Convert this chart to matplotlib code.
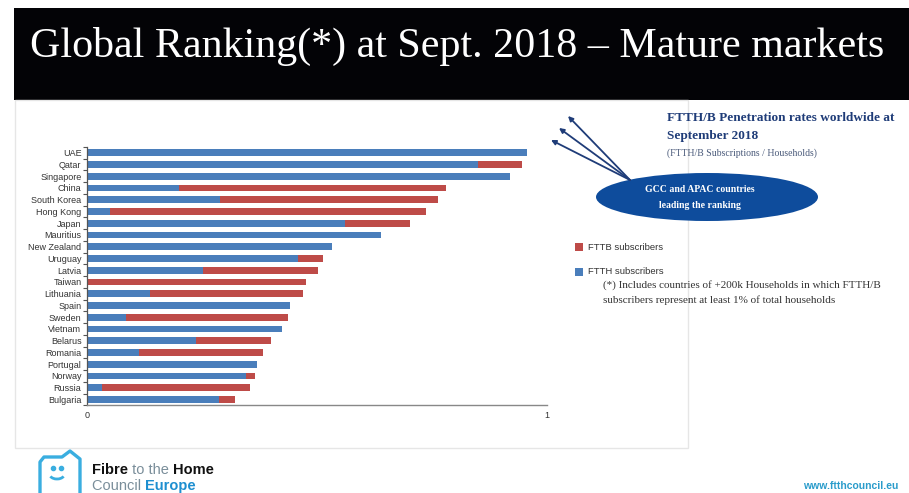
import matplotlib
matplotlib.use("Agg")
import matplotlib.pyplot as plt
from matplotlib.patches import Rectangle, Ellipse, Polygon, Arc
import numpy as np

countries = ["UAE", "Qatar", "Singapore", "China", "South Korea", "Hong Kong",
             "Japan", "Mauritius", "New Zealand", "Uruguay", "Latvia", "Taiwan",
             "Lithuania", "Spain", "Sweden", "Vietnam", "Belarus", "Romania",
             "Portugal", "Norway", "Russia", "Bulgaria"]
ftth = [0.957, 0.849, 0.920, 0.200, 0.289, 0.050, 0.561, 0.639, 0.533, 0.459,
        0.252, 0.000, 0.138, 0.441, 0.085, 0.423, 0.238, 0.114, 0.370, 0.345,
        0.033, 0.287]
fttb = [0.000, 0.097, 0.000, 0.580, 0.473, 0.688, 0.142, 0.000, 0.000, 0.053,
        0.251, 0.475, 0.332, 0.000, 0.351, 0.000, 0.161, 0.268, 0.000, 0.021,
        0.321, 0.035]
x_ticks = [0, 1]
x_ticklabels = ["0", "1"]

title = "Global Ranking(*) at Sept. 2018 \u2013 Mature markets"
BLUE = "#4A7EBB"
RED = "#BE4B48"
NAVY = "#1F3C78"

W, H = 909, 493
fig = plt.figure(figsize=(W / 100, H / 100), dpi=100)
fig.patch.set_facecolor("white")

# overlay axes in pixel coordinates
ov = fig.add_axes([0, 0, 1, 1])
ov.set_xlim(0, W)
ov.set_ylim(H, 0)
ov.axis("off")

# black title band
ov.add_patch(Rectangle((14, 8), W - 14, 92, facecolor="#030306", edgecolor="none"))
# chart frame
ov.add_patch(Rectangle((15, 100), 673, 348, facecolor="white", edgecolor="#e6e6e6", lw=1.0))

renderer = fig.canvas.get_renderer()
# title, sized to span the band
t = ov.text(30, 46, title, color="white", fontsize=30, family="Liberation Serif",
            ha="left", va="center")
wpx = t.get_window_extent(renderer).width
t.set_fontsize(30 * 855 / wpx)

# chart axes
ax = fig.add_axes([87 / W, (H - 405.3) / H, 460 / W, 258.5 / H])
y = np.arange(len(countries))
ax.barh(y, ftth, height=0.58, color=BLUE, label="FTTH subscribers", zorder=2)
ax.barh(y, fttb, left=ftth, height=0.58, color=RED, label="FTTB subscribers", zorder=2)
ax.set_xlim(0, 1)
ax.set_ylim(len(countries) - 0.5, -0.5)
ax.set_yticks(y)
ax.set_yticklabels(countries, fontsize=6.5, color="#333333", family="Liberation Sans")
ax.set_yticks(np.arange(len(countries) + 1) - 0.5, minor=True)
ax.tick_params(axis="y", which="major", length=0, pad=4)
ax.tick_params(axis="y", which="minor", length=3, color="#555555", width=0.8)
ax.set_xticks(x_ticks)
ax.set_xticklabels(x_ticklabels, fontsize=6.5, color="#333333", family="Liberation Sans")
ax.tick_params(axis="x", length=0, pad=4)
for s in ["top", "right"]:
    ax.spines[s].set_visible(False)
ax.spines["left"].set_color("#555555")
ax.spines["left"].set_linewidth(0.9)
ax.spines["bottom"].set_color("#888888")
ax.spines["bottom"].set_linewidth(1.0)
ax.patch.set_alpha(0)

# right-hand annotation
ov.text(667, 118, "FTTH/B Penetration rates worldwide at", color=NAVY, fontsize=9.5,
        family="Liberation Serif", weight="bold", va="center")
ov.text(667, 136, "September 2018", color=NAVY, fontsize=9.5,
        family="Liberation Serif", weight="bold", va="center")
ov.text(667, 153, "(FTTH/B Subscriptions / Households)", color="#4a5a7a", fontsize=7,
        family="Liberation Serif", va="center")

ov.add_patch(Ellipse((707, 197), 222, 48, facecolor="#0E4C9C", edgecolor="none"))
ov.text(700, 190, "GCC and APAC countries", color="white", fontsize=7,
        family="Liberation Serif", weight="bold", ha="center", va="center")
ov.text(700, 206, "leading the ranking", color="white", fontsize=7,
        family="Liberation Serif", weight="bold", ha="center", va="center")
for tip in [(568, 116), (559, 128), (551, 140)]:
    ov.annotate("", xy=tip, xytext=(630, 180),
                arrowprops=dict(arrowstyle="-|>", color="#1F3C78", lw=1.3,
                                mutation_scale=7, shrinkA=0, shrinkB=0))

# legend
handles, labels = ax.get_legend_handles_labels()
for i, (hnd, lab) in enumerate(zip(handles[::-1], labels[::-1])):
    yy = 247 + i * 25
    ov.add_patch(Rectangle((575, yy - 4), 8, 8, facecolor=hnd.patches[0].get_facecolor(),
                           edgecolor="none"))
    ov.text(588, yy, lab, fontsize=6.8, color="#333333", family="Liberation Sans", va="center")

ov.text(603, 285, "(*) Includes countries of +200k Households in which FTTH/B",
        fontsize=8, color="#333333", family="Liberation Serif", va="center")
ov.text(603, 300, "subscribers represent at least 1% of total households",
        fontsize=8, color="#333333", family="Liberation Serif", va="center")

# logo
LB = "#3AAEE0"
ov.add_patch(Polygon([(40, 494), (40, 462), (44, 457), (62, 457), (70, 451), (80, 459),
                      (80, 494)], closed=False, fill=False, edgecolor=LB,
                     lw=2.4, joinstyle="round"))
ov.plot([53, 61], [468, 468], "o", color=LB, ms=3)
ov.add_patch(Arc((57, 474), 15, 10, theta1=20, theta2=160, color=LB, lw=2))


def seq(x, yv, parts, fs):
    for txt, col, wt in parts:
        tt = ov.text(x, yv, txt, fontsize=fs, color=col, weight=wt,
                     family="Liberation Sans", va="center")
        ext = tt.get_window_extent(renderer)
        x += ext.width


seq(92, 470, [("Fibre", "#111111", "bold"), (" to the ", "#7a8e9a", "normal"),
              ("Home", "#111111", "bold")], 10.5)
seq(92, 486, [("Council ", "#7a8e9a", "normal"), ("Europe", "#1E8FD0", "bold")], 10.5)

ov.text(898, 486, "www.ftthcouncil.eu", fontsize=7.5, color="#2A9CCB", weight="bold",
        family="Liberation Sans", ha="right", va="center")

fig.savefig("out.png", dpi=100, facecolor="white")
